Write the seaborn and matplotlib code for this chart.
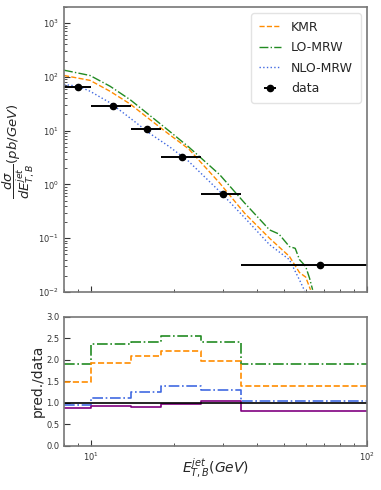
import numpy as np
import pandas as pd
import matplotlib
matplotlib.use("Agg")
import matplotlib.pyplot as plt
import seaborn as sns

# ---------------- data ----------------
# theory curves (E_T in GeV, dsigma/dE in pb/GeV)
kmr_E = [8.0, 9.94, 11.74, 13.87, 16.4, 19.3, 22.6, 29.3, 36.1, 44.4, 52.4, 57.0, 60.0, 62.5]
kmr_y = [106, 86, 54, 31.4, 16, 8.4, 4.6, 1.06, 0.29, 0.10, 0.046, 0.023, 0.019, 0.011]

lomrw_E = [8.0, 9.94, 11.74, 13.87, 16.4, 19.3, 22.6, 29.3, 36.1, 44.4, 48.0, 52.4, 55.0, 57.0, 60.0, 62.0, 63.6]
lomrw_y = [133, 106, 67, 37.8, 19, 9.7, 5.0, 1.52, 0.45, 0.143, 0.12, 0.070, 0.065, 0.040, 0.030, 0.018, 0.011]

nlomrw_E = [8.0, 9.0, 9.94, 11.74, 13.87, 16.4, 19.3, 22.6, 29.3, 36.1, 44.4, 52.4, 57.0, 59.5]
nlomrw_y = [72, 67, 54, 33, 17.2, 8.8, 5.0, 2.7, 0.74, 0.24, 0.076, 0.040, 0.0168, 0.0105]

# data points
data_E = [9.0, 12.0, 16.0, 21.4, 30.0, 67.5]
data_y = [64, 29, 10.9, 3.2, 0.67, 0.032]
bin_edges = [8, 10, 14, 18, 25, 35, 110]

# ratio pred./data per bin
ratio_kmr = [1.49, 1.93, 2.08, 2.21, 1.98, 1.40]
ratio_lomrw = [1.89, 2.37, 2.41, 2.56, 2.40, 1.90]
ratio_nlomrw = [0.95, 1.12, 1.26, 1.39, 1.30, 1.03]
ratio_other = [0.87, 0.92, 0.90, 0.98, 1.03, 0.80]

# ---------------- style ----------------
sns.set_style("white")
plt.rcParams['font.family'] = ['DejaVu Sans']
plt.rcParams['mathtext.fontset'] = 'dejavusans'

fig = plt.figure(figsize=(3.81, 4.90), dpi=100)
ax1 = fig.add_axes([0.168, 0.404, 0.795, 0.582])
ax2 = fig.add_axes([0.168, 0.090, 0.795, 0.264])

c_kmr = 'darkorange'
c_lo = 'forestgreen'
c_nlo = 'royalblue'
c_oth = 'purple'

def df(x, y):
    return pd.DataFrame({'x': x, 'y': y})

sns.lineplot(data=df(kmr_E, kmr_y), x='x', y='y', ax=ax1, color=c_kmr,
             linestyle='--', lw=1.0, label='KMR', sort=False)
sns.lineplot(data=df(lomrw_E, lomrw_y), x='x', y='y', ax=ax1, color=c_lo,
             linestyle='-.', lw=1.0, label='LO-MRW', sort=False)
sns.lineplot(data=df(nlomrw_E, nlomrw_y), x='x', y='y', ax=ax1, color=c_nlo,
             linestyle=':', lw=1.0, label='NLO-MRW', sort=False)

edges = np.array(bin_edges, dtype=float)
xerr_lo = np.array(data_E) - edges[:-1]
xerr_hi = edges[1:] - np.array(data_E)
ax1.errorbar(data_E, data_y, xerr=[xerr_lo, xerr_hi], fmt='o', color='black',
             ms=4.5, lw=1.4, capsize=0, label='data')

ax1.set_xscale('log')
ax1.set_yscale('log')
ax1.set_xlim(8, 100)
ax1.set_ylim(0.01, 2000)
ax1.set_xlabel('')
ax1.set_ylabel('')
fig.text(19 / 381, 1 - 151 / 490, r'$\dfrac{d\sigma}{dE_{T,B}^{jet}}(pb/GeV)$',
         fontsize=9.5, rotation=90, ha='center', va='center')
ax1.tick_params(axis='x', labelbottom=False)
leg = ax1.legend(loc='upper right', fontsize=9, handlelength=1.8,
                 frameon=True, borderpad=0.6, labelspacing=0.6)
leg.get_frame().set_edgecolor('#dddddd')

# ratio panel
def steps(vals):
    return list(vals) + [vals[-1]]

for vals, col, ls in [(ratio_lomrw, c_lo, '-.'), (ratio_kmr, c_kmr, '--'),
                      (ratio_nlomrw, c_nlo, '-.'), (ratio_other, c_oth, '-')]:
    sns.lineplot(data=df(bin_edges, steps(vals)), x='x', y='y', ax=ax2,
                 color=col, linestyle=ls, lw=1.2, drawstyle='steps-post', sort=False)
ax2.axhline(1.0, color='black', lw=1.2)
ax2.set_xscale('log')
ax2.set_xlim(8, 100)
ax2.set_ylim(0, 3.0)
ax2.set_yticks([0, 0.5, 1.0, 1.5, 2.0, 2.5, 3.0])
ax2.set_ylabel('pred./data', fontsize=10)
ax2.yaxis.set_label_coords(-0.065, 0.5)
ax2.set_xlabel(r'$E_{T,B}^{jet}(GeV)$', fontsize=10)
ax2.xaxis.set_label_coords(0.5, -0.08)

for ax in (ax1, ax2):
    ax.tick_params(which='both', direction='in', left=True, bottom=True,
                   labelsize=6, colors='#333333')
    ax.tick_params(which='major', length=4)
    ax.tick_params(which='minor', length=2)
    for s in ax.spines.values():
        s.set_color('#777777')
        s.set_linewidth(1.2)

fig.savefig('out.png', dpi=100)
